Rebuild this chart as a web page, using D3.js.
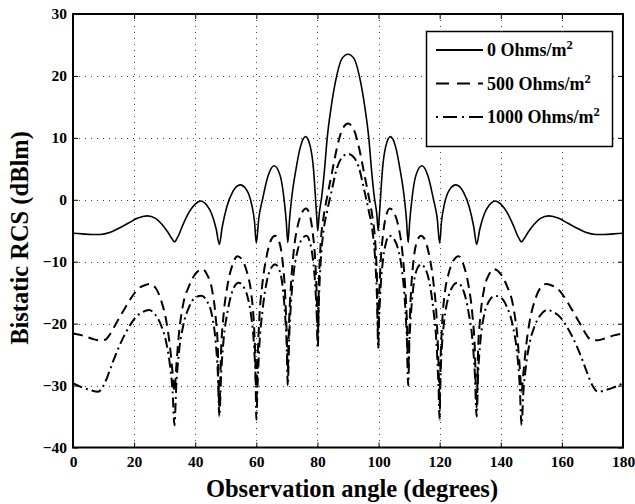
<!DOCTYPE html>
<html>
<head>
<meta charset="utf-8">
<script src="https://cdn.jsdelivr.net/npm/d3@7"></script>
<style>
  body { margin: 0; background: #fff; }
  svg text { font-family: "Liberation Serif", "Times New Roman", serif; font-weight: bold; fill: #000; }
</style>
</head>
<body>
<svg class="rcsChart"></svg>
<script>
// bistatic RCS vs observation angle, three sheet resistances
// values

const xTicks = [0, 20, 40, 60, 80, 100, 120, 140, 160, 180];
const yTicks = [-40, -30, -20, -10, 0, 10, 20, 30];
const seriesNames = ["0 Ohms/m", "500 Ohms/m", "1000 Ohms/m"];

// 0 Ohms/m^2 (solid)
const angle0 = [0, 3, 6, 9, 12, 15, 18, 21, 24.3, 27, 29, 31, 32.4, 33.2, 34.3, 36, 38, 40,
  41.8, 43.8, 45.4, 46.9, 47.9, 48.8, 50.3, 52.3, 54.7, 56.8, 58.4, 59.4, 60, 60.8, 62, 63.8,
  65.8, 67.8, 69.1, 69.8, 70.3, 70.9, 71.5, 73, 74.4, 76.1, 77.7, 78.7, 79.4, 79.8, 80.1, 80.6,
  81.4, 82.3, 83.2, 84.5, 86.3, 88, 90,
  92, 93.7, 95.5, 96.8, 97.7, 98.6, 99.4, 99.9, 100.2, 100.6, 101.3, 102.3, 103.9, 105.6, 107,
  108.5, 109.1, 109.7, 110.2, 110.9, 112.2, 114.2, 116.2, 118, 119.2, 120, 120.6, 121.6, 123.2,
  125.3, 127.7, 129.7, 131.2, 132.1, 133.1, 134.6, 136.2, 138.2, 140, 142, 144, 145.7, 146.8,
  147.6, 149, 151, 153, 155.7, 159, 162, 165, 168, 171, 174, 177, 180];
const rcs0 = [-5.4, -5.5, -5.6, -5.6, -5.3, -4.6, -3.8, -3.0, -2.6, -3.0, -3.9, -5.2, -6.3, -6.8,
  -6.0, -4.0, -2.0, -0.7, -0.2, -0.9, -2.3, -4.8, -7.2, -4.5, -1.2, 1.3, 2.4, 1.6, -0.6, -3.5,
  -7.0, -3.0, 0.0, 3.8, 5.5, 3.9, 0.0, -3.5, -6.9, -3.0, 0.0, 5.0, 8.5, 10.2, 8.5, 5.0, 0.0,
  -3.0, -5.0, -2.2, 0.5, 4.8, 10.0, 15.0, 20.0, 22.8, 23.5,
  22.8, 20.0, 15.0, 10.0, 4.8, 0.5, -2.2, -5.0, -3.0, 0.0, 5.0, 8.5, 10.2, 8.5, 5.0, 0.0, -3.0,
  -6.9, -3.5, 0.0, 3.9, 5.5, 3.8, 0.0, -3.0, -7.0, -3.5, -0.6, 1.6, 2.4, 1.3, -1.2, -4.5, -7.2,
  -4.8, -2.3, -0.9, -0.2, -0.7, -2.0, -4.0, -6.0, -6.8, -6.3, -5.2, -3.9, -3.0, -2.6, -3.0,
  -3.8, -4.6, -5.3, -5.6, -5.6, -5.5, -5.4];

// 500 Ohms/m^2 (dashed)
const angle500 = [0, 3, 6, 8.5, 10.5, 12, 13.5, 15, 17, 19.5, 21.5, 23.5, 25.2, 27, 29, 30.5,
  31.8, 32.6, 33.2, 33.8, 34.6, 36, 38, 40, 42.3, 44, 45.5, 46.7, 47.4, 47.9, 48.5, 49.3, 50.5,
  52, 53.8, 55.5, 57, 58.3, 59.2, 59.7, 60, 60.4, 61, 62, 63.5, 65, 66.1, 67.5, 68.6, 69.4,
  69.9, 70.3, 70.7, 71.3, 72.3, 73.5, 75, 76.3, 77.5, 78.5, 79.3, 79.8, 80.1, 80.5, 81, 82,
  83.2, 84.8, 86.3, 88, 90,
  92, 93.7, 95.2, 96.8, 98, 99, 99.5, 99.9, 100.2, 100.7, 101.5, 102.5, 103.7, 105, 106.5,
  107.7, 108.7, 109.3, 109.7, 110.1, 110.6, 111.4, 112.5, 113.9, 115, 116.5, 118, 119, 119.6,
  120, 120.3, 120.8, 121.7, 123, 124.5, 126.2, 128, 129.5, 130.7, 131.5, 132.1, 132.6, 133.3,
  134.5, 136, 137.7, 140, 142, 144, 145.4, 146.2, 146.8, 147.4, 148.2, 149.5, 151, 153, 154.8,
  156.5, 158.5, 160.5, 163, 165, 166.5, 168, 169.5, 171.5, 174, 177, 180];
const rcs500 = [-21.6, -21.9, -22.4, -22.7, -22.6, -21.8, -20.5, -19.2, -17.5, -15.5, -14.3,
  -13.8, -13.6, -14.2, -16.5, -19.5, -24, -28, -31, -27, -22, -17, -13.9, -12, -11.2, -12.2,
  -14.5, -19, -24, -33.5, -24, -18.5, -14, -10.8, -9.1, -9.8, -11.8, -15, -20, -26, -33, -26,
  -19, -13.5, -8.8, -6.3, -5.8, -6.8, -10, -15, -21, -27.5, -20, -14, -8, -4.3, -2, -1.4,
  -2.5, -5.5, -10, -16, -22.5, -13, -7.5, -2.8, 0.5, 4.5, 8.2, 11.2, 12.3,
  11.2, 8.2, 4.5, 0.5, -2.8, -7.5, -13, -22.5, -16, -10, -5.5, -2.5, -1.4, -2, -4.3, -8, -14,
  -20, -27.5, -21, -15, -10, -6.8, -5.8, -6.3, -8.8, -13.5, -19, -26, -33, -26, -20, -15,
  -11.8, -9.8, -9.1, -10.8, -14, -18.5, -24, -33.5, -24, -19, -14.5, -12.2, -11.2, -12, -13.9,
  -17, -22, -27, -31, -28, -24, -19.5, -16.5, -14.2, -13.6, -13.8, -14.3, -15.5, -17.5, -19.2,
  -20.5, -21.8, -22.6, -22.7, -22.4, -21.9, -21.6];

// 1000 Ohms/m^2 (dash-dot)
const angle1000 = [0, 3, 5.5, 8.2, 10, 12, 13.5, 15, 17, 19, 20.5, 22.5, 24.9, 27, 29, 30.5,
  31.8, 32.6, 33.2, 33.8, 34.6, 36, 38, 40, 42, 44, 45.5, 46.7, 47.4, 47.9, 48.5, 49.3, 50.5,
  52, 54.2, 56, 57.3, 58.5, 59.3, 59.8, 60, 60.4, 61, 62, 63.5, 65, 66.1, 67.5, 68.6, 69.4,
  69.9, 70.3, 70.7, 71.3, 72.3, 73.5, 75, 76.4, 77.5, 78.5, 79.3, 79.8, 80.1, 80.5, 81, 82,
  83.2, 84.8, 86.3, 88, 90,
  92, 93.7, 95.2, 96.8, 98, 99, 99.5, 99.9, 100.2, 100.7, 101.5, 102.5, 103.6, 105, 106.5,
  107.7, 108.7, 109.3, 109.7, 110.1, 110.6, 111.4, 112.5, 113.9, 115, 116.5, 118, 119, 119.6,
  120, 120.2, 120.7, 121.5, 122.7, 124, 125.8, 128, 129.5, 130.7, 131.5, 132.1, 132.6, 133.3,
  134.5, 136, 138, 140, 142, 144, 145.4, 146.2, 146.8, 147.4, 148.2, 149.5, 151, 153, 155.1,
  157.5, 159.5, 161, 163, 165, 166.5, 168, 170, 171.8, 174.5, 177, 180];
const rcs1000 = [-29.6, -30.3, -30.7, -31.0, -30.0, -27.6, -25.6, -23.8, -21.7, -20.0, -19.0,
  -18.2, -17.8, -18.6, -20.5, -23, -27, -31, -36.4, -30, -25, -20.5, -17.3, -15.8, -15.5,
  -16.5, -18.7, -23, -28, -35, -28, -22.5, -18.3, -15, -13.4, -14.2, -16, -19.5, -24, -30,
  -35.5, -30, -23.5, -18, -13, -10.9, -10.4, -11.3, -14, -18.5, -23, -30, -23, -17, -11.5,
  -8.2, -6.3, -5.8, -6.8, -9.5, -14, -19, -24, -16, -10.5, -5, -1.8, 1.8, 5, 6.8, 7.4,
  6.8, 5, 1.8, -1.8, -5, -10.5, -16, -24, -19, -14, -9.5, -6.8, -5.8, -6.3, -8.2, -11.5, -17,
  -23, -30, -23, -18.5, -14, -11.3, -10.4, -10.9, -13, -18, -23.5, -30, -35.5, -30, -24,
  -19.5, -16, -14.2, -13.4, -15, -18.3, -22.5, -28, -35, -28, -23, -18.7, -16.5, -15.5, -15.8,
  -17.3, -20.5, -25, -30, -36.4, -31, -27, -23, -20.5, -18.6, -17.8, -18.2, -19.0, -20.0,
  -21.7, -23.8, -25.6, -27.6, -30.0, -31.0, -30.7, -30.3, -29.6];

const W = 635, H = 504;
const plot = { left: 73, right: 623, top: 14, bottom: 447.5 };

const x = d3.scaleLinear().domain([0, 180]).range([plot.left, plot.right]);
const y = d3.scaleLinear().domain([-40, 30]).range([plot.bottom, plot.top]);

const styles = [
  { dash: null, width: 1.6, key: null },
  { dash: "10,6", width: 2, key: "13,8" },
  { dash: "10,4,2,4", width: 2, key: "2,5,14,5" }
];

const svg = d3.select("svg.rcsChart")
  .attr("width", W)
  .attr("height", H)
  .attr("viewBox", [0, 0, W, H]);

svg.append("rect").attr("width", W).attr("height", H).attr("fill", "#fff");

// dotted grid
const grid = svg.append("g").attr("stroke", "#444").attr("stroke-width", 1)
  .attr("stroke-dasharray", "1,5");
grid.selectAll("line.gx")
  .data(xTicks.filter(d => d > 0 && d < 180))
  .join("line")
  .attr("x1", d => Math.round(x(d)) + 0.5).attr("x2", d => Math.round(x(d)) + 0.5)
  .attr("y1", plot.top).attr("y2", plot.bottom);
grid.selectAll("line.gy")
  .data(yTicks.filter(d => d > -40 && d < 30))
  .join("line")
  .attr("y1", d => Math.round(y(d)) + 0.5).attr("y2", d => Math.round(y(d)) + 0.5)
  .attr("x1", plot.left).attr("x2", plot.right);

// curves
const series = [
  [angle0, rcs0],
  [angle500, rcs500],
  [angle1000, rcs1000]
];
const line = d3.line()
  .x(d => x(d[0]))
  .y(d => y(d[1]))
  .curve(d3.curveMonotoneX);

svg.append("g")
  .selectAll("path")
  .data(series)
  .join("path")
  .attr("fill", "none")
  .attr("stroke", "#000")
  .attr("stroke-width", (d, i) => styles[i].width)
  .attr("stroke-dasharray", (d, i) => styles[i].dash)
  .attr("stroke-linejoin", "round")
  .attr("d", d => line(d3.zip(d[0], d[1])));

// axes (inner ticks, MATLAB look)
const xAxis = d3.axisBottom(x).tickValues(xTicks).tickSize(-5).tickPadding(8);
const yAxis = d3.axisLeft(y).tickValues(yTicks).tickSize(-5).tickPadding(6);

const gx = svg.append("g").attr("transform", `translate(0,${plot.bottom})`).call(xAxis);
const gy = svg.append("g").attr("transform", `translate(${plot.left},0)`).call(yAxis);
svg.append("g").attr("transform", `translate(0,${plot.top})`)
  .call(d3.axisTop(x).tickValues(xTicks).tickSize(-5).tickFormat(""));
svg.append("g").attr("transform", `translate(${plot.right},0)`)
  .call(d3.axisRight(y).tickValues(yTicks).tickSize(-5).tickFormat(""));

svg.selectAll(".domain").remove();
svg.selectAll(".tick line").attr("stroke", "#000").attr("stroke-width", 1);
gx.selectAll("text").attr("font-size", 15.5).attr("font-family", "Liberation Serif").attr("font-weight", "bold");
gy.selectAll("text").attr("font-size", 15.5).attr("font-family", "Liberation Serif").attr("font-weight", "bold");

// frame
svg.append("rect")
  .attr("x", plot.left).attr("y", plot.top)
  .attr("width", plot.right - plot.left).attr("height", plot.bottom - plot.top)
  .attr("fill", "none").attr("stroke", "#000").attr("stroke-width", 2);

// axis titles
svg.append("text")
  .attr("x", 352).attr("y", 497)
  .attr("text-anchor", "middle")
  .attr("font-size", 24.5)
  .text("Observation angle (degrees)");

svg.append("text")
  .attr("transform", "translate(28,238) rotate(-90)")
  .attr("text-anchor", "middle")
  .attr("font-size", 24.5)
  .text("Bistatic RCS (dBlm)");

// legend
const legend = svg.append("g");
legend.append("rect")
  .attr("x", 426.5).attr("y", 31.5).attr("width", 186).attr("height", 115)
  .attr("fill", "#fff").attr("stroke", "#000").attr("stroke-width", 1.5);

const rows = legend.selectAll("g.row")
  .data(seriesNames)
  .join("g")
  .attr("transform", (d, i) => `translate(0,${50 + i * 33.5})`);
rows.append("line")
  .attr("x1", 436).attr("x2", 483)
  .attr("stroke", "#000")
  .attr("stroke-width", 2)
  .attr("stroke-dasharray", (d, i) => styles[i].key);
const labels = rows.append("text")
  .attr("x", 487).attr("y", 6)
  .attr("font-size", 18);
labels.append("tspan").text(d => d);
labels.append("tspan").attr("dy", -7).attr("font-size", 12.5).text("2");
</script>
</body>
</html>
